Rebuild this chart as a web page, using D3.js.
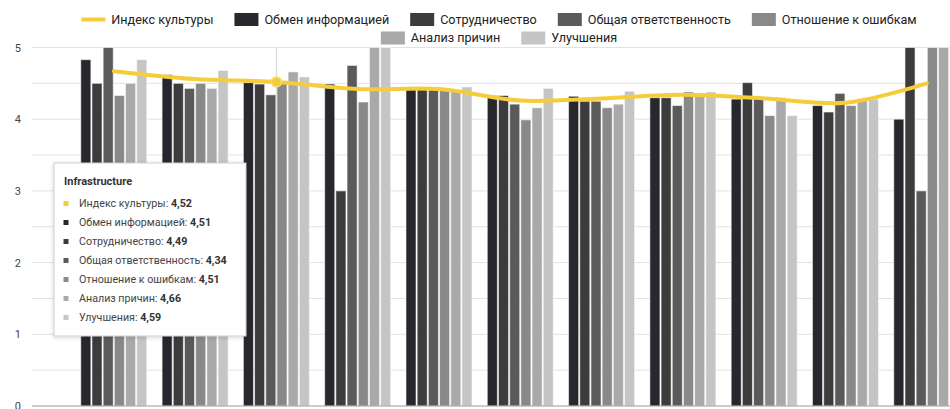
<!DOCTYPE html>
<html>
<head>
<meta charset="utf-8">
<script src="https://cdn.jsdelivr.net/npm/d3@7"></script>
<style>
  html, body { margin: 0; padding: 0; background: #fff; }
  svg { display: block; font-family: Roboto, "Noto Sans", sans-serif; }
</style>
</head>
<body>
<svg id="chart" width="950" height="409"></svg>
<script>
// ---- data ----
const categories = ["Operations", "Safety", "Infrastructure", "Maintenance", "Engineering",
  "Logistics", "Quality", "Production", "Finance", "Support", "Management"];
const seriesNames = ["Обмен информацией", "Сотрудничество", "Общая ответственность",
  "Отношение к ошибкам", "Анализ причин", "Улучшения"];
const lineName = "Индекс культуры";
const infoExchange   = [4.83, 4.62, 4.51, 4.49, 4.41, 4.33, 4.32, 4.30, 4.28, 4.19, 4.00];
const collaboration  = [4.50, 4.50, 4.49, 3.00, 4.41, 4.33, 4.25, 4.30, 4.51, 4.10, 5.00];
const responsibility = [5.00, 4.43, 4.34, 4.75, 4.41, 4.21, 4.25, 4.19, 4.31, 4.36, 3.00];
const errorAttitude  = [4.33, 4.50, 4.51, 4.24, 4.41, 3.99, 4.16, 4.38, 4.05, 4.19, 5.00];
const rootCause      = [4.50, 4.43, 4.66, 5.00, 4.41, 4.16, 4.21, 4.36, 4.30, 4.27, 5.00];
const improvements   = [4.83, 4.68, 4.59, 5.00, 4.45, 4.43, 4.39, 4.38, 4.05, 4.28, 5.00];
const cultureIndex   = [4.67, 4.56, 4.52, 4.42, 4.42, 4.26, 4.29, 4.34, 4.29, 4.23, 4.50];
const yTicks = [0, 1, 2, 3, 4, 5];
const gridTicks = [0.5, 1, 1.5, 2, 2.5, 3, 3.5, 4, 4.5, 5];
const tooltipCategory = "Infrastructure";

const seriesValues = [infoExchange, collaboration, responsibility, errorAttitude, rootCause, improvements];
const seriesColors = ["#27282d", "#3c3c3c", "#5a5a5a", "#898989", "#a9a9a9", "#c5c5c5"];
const lineColor = "#f5cd3a";

// ---- layout ----
const svg = d3.select("#chart");
const plotLeft = 32, plotTop = 47.5, plotBottom = 406;
const step = 81.3;
const pIn = 0.188, pOut = 0.6;
const plotRight = plotLeft + step * (categories.length - pIn + 2 * pOut);

const x = d3.scaleBand().domain(categories).range([plotLeft, plotRight])
  .paddingInner(pIn).paddingOuter(pOut);
const xs = d3.scaleBand().domain(seriesNames).range([0, x.bandwidth()]).paddingInner(0.1);
const y = d3.scaleLinear().domain([0, 5]).range([plotBottom, plotTop]);

// grid
svg.append("g").selectAll("line").data(gridTicks).join("line")
  .attr("x1", plotLeft).attr("x2", 950)
  .attr("y1", d => y(d)).attr("y2", d => y(d))
  .attr("stroke", "#e2e2e2").attr("stroke-width", 1);

// y axis labels
const yAxis = d3.axisLeft(y).tickValues(yTicks).tickSize(0).tickPadding(0).tickFormat(d3.format("d"));
const yg = svg.append("g").attr("transform", `translate(${plotLeft - 11},0)`).call(yAxis);
yg.select(".domain").remove();
yg.selectAll("text").attr("fill", "#444").style("font-size", "11px").style("font-family", "Roboto, sans-serif");

// crosshair
const hx = x(tooltipCategory) + x.bandwidth() / 2;
svg.append("line").attr("x1", hx).attr("x2", hx).attr("y1", plotTop).attr("y2", plotBottom)
  .attr("stroke", "#d6d6d6").attr("stroke-width", 1);

// bars
const groups = svg.append("g").selectAll("g").data(categories).join("g")
  .attr("transform", d => `translate(${x(d)},0)`);
groups.selectAll("rect").data((c, i) => seriesNames.map((s, k) => ({ s, k, v: seriesValues[k][i] })))
  .join("rect")
  .attr("x", d => xs(d.s)).attr("width", xs.bandwidth())
  .attr("y", d => y(d.v)).attr("height", d => y(0) - y(d.v))
  .attr("fill", d => seriesColors[d.k])
  .attr("stroke", "rgba(255,255,255,0.55)").attr("stroke-width", 1);

// baseline
svg.append("line").attr("x1", plotLeft).attr("x2", 950).attr("y1", y(0)).attr("y2", y(0))
  .attr("stroke", "#9a9a9a").attr("stroke-width", 1);

// line
const line = d3.line().x((d, i) => x(categories[i]) + x.bandwidth() / 2).y(d => y(d))
  .curve(d3.curveCatmullRom.alpha(0.5));
svg.append("path").datum(cultureIndex).attr("d", line)
  .attr("fill", "none").attr("stroke", lineColor).attr("stroke-width", 4).attr("stroke-linecap", "round");

const ti = categories.indexOf(tooltipCategory);
svg.append("circle").attr("cx", hx).attr("cy", y(cultureIndex[ti])).attr("r", 5)
  .attr("fill", lineColor).attr("stroke", "#f8dc70").attr("stroke-width", 1.5);

// legend
const legendItems = [{ name: lineName, type: "line", color: lineColor }]
  .concat(seriesNames.map((s, k) => ({ name: s, type: "rect", color: seriesColors[k] })));
const rows = [legendItems.slice(0, 5), legendItems.slice(5)];
const rowY = [19.5, 38];
const legendCenter = 499;
const lg = svg.append("g");
rows.forEach((row, r) => {
  const g = lg.append("g");
  let cx = 0;
  row.forEach(item => {
    const it = g.append("g").attr("transform", `translate(${cx},0)`);
    if (item.type === "line") {
      it.append("line").attr("x1", 0).attr("x2", 24).attr("y1", rowY[r]).attr("y2", rowY[r])
        .attr("stroke", item.color).attr("stroke-width", 4);
    } else {
      it.append("rect").attr("x", 0).attr("y", rowY[r] - 6.5).attr("width", 24).attr("height", 13)
        .attr("fill", item.color);
    }
    const t = it.append("text").attr("x", 30).attr("y", rowY[r]).attr("dy", "0.35em")
      .attr("fill", "#222").style("font-size", "12.6px").text(item.name);
    cx += 30 + t.node().getComputedTextLength() + 21;
  });
  const total = cx - 21;
  g.attr("transform", `translate(${legendCenter - total / 2},0)`);
});

// tooltip
const defs = svg.append("defs");
const f = defs.append("filter").attr("id", "shadow").attr("x", "-10%").attr("y", "-10%")
  .attr("width", "130%").attr("height", "130%");
f.append("feDropShadow").attr("dx", 0).attr("dy", 1).attr("stdDeviation", 2)
  .attr("flood-color", "#000").attr("flood-opacity", 0.18);

const tt = svg.append("g").attr("transform", "translate(54,163)");
tt.append("rect").attr("width", 192).attr("height", 173).attr("fill", "#fff")
  .attr("stroke", "#d0d0d0").attr("stroke-width", 1).attr("filter", "url(#shadow)");
tt.append("text").attr("x", 10).attr("y", 18).attr("dy", "0.35em")
  .attr("fill", "#333").style("font-size", "11px").style("font-weight", "bold").text(tooltipCategory);
const fmt = v => d3.format(".2f")(v).replace(".", ",");
const ttRows = [{ name: lineName, color: lineColor, v: cultureIndex[ti] }]
  .concat(seriesNames.map((s, k) => ({ name: s, color: seriesColors[k], v: seriesValues[k][ti] })));
ttRows.forEach((r, i) => {
  const yy = 40.5 + i * 19;
  tt.append("rect").attr("x", 9.5).attr("y", yy - 2.5).attr("width", 5).attr("height", 5).attr("fill", r.color);
  const t = tt.append("text").attr("x", 25).attr("y", yy).attr("dy", "0.35em")
    .attr("fill", "#444").style("font-size", "10.7px");
  t.append("tspan").text(r.name + ": ");
  t.append("tspan").style("font-weight", "bold").attr("fill", "#333").text(fmt(r.v));
});
</script>
</body>
</html>
